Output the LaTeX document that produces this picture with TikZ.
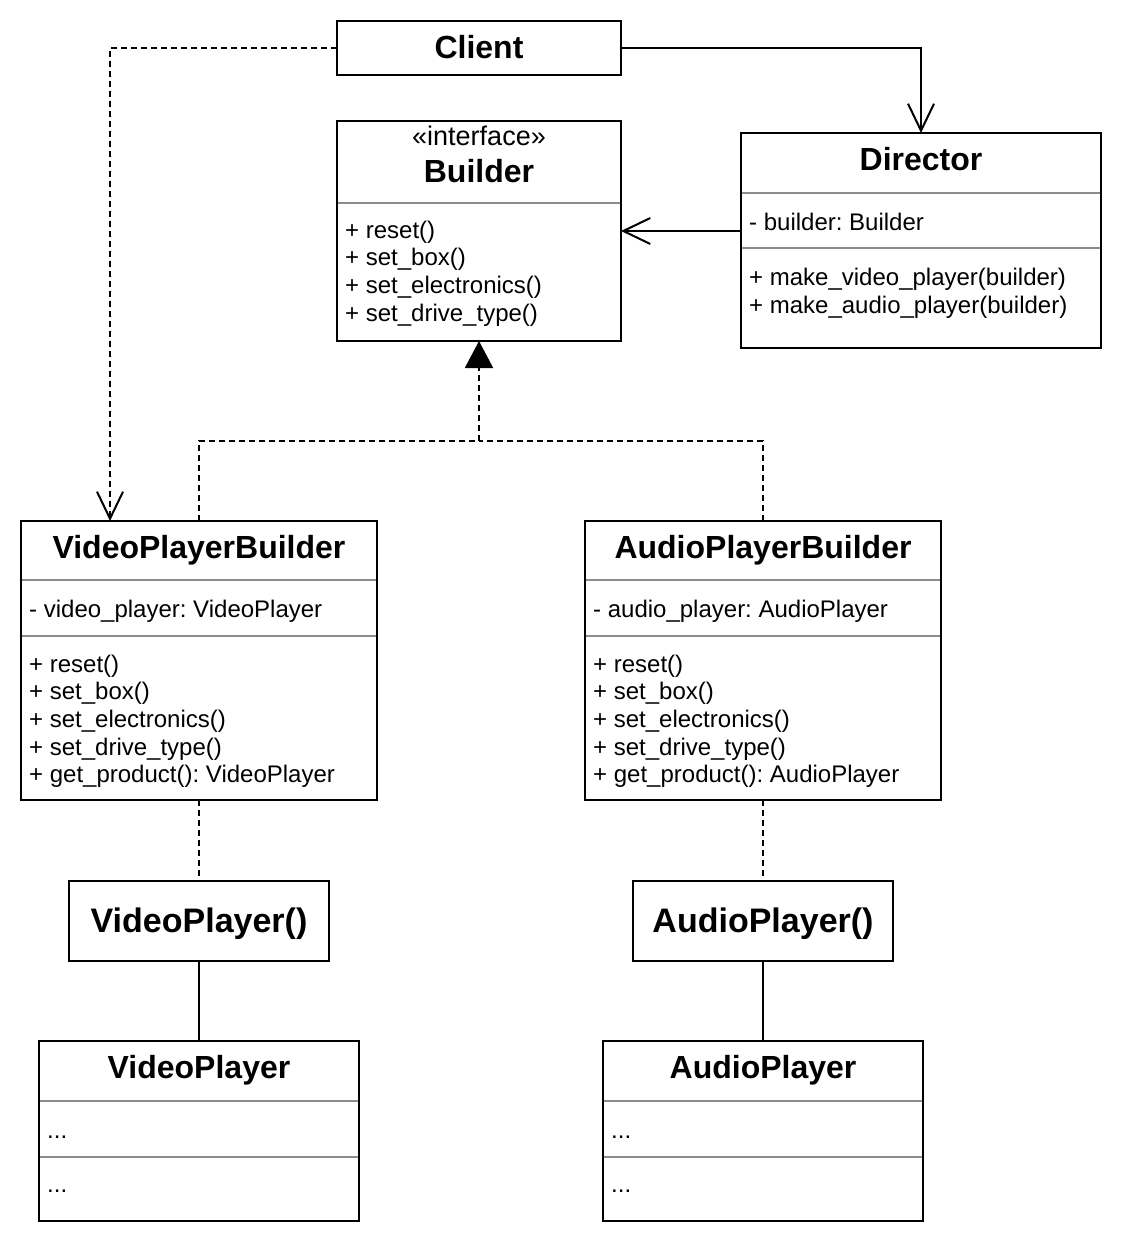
\documentclass[tikz,border=0pt]{standalone}
\usepackage{fontspec}
\setmainfont{Liberation Sans}
\usetikzlibrary{arrows.meta,calc}
\frenchspacing

\tikzset{
  classbox/.style={draw, line width=2pt, anchor=north west, inner sep=0pt, outer sep=0pt},
  title/.style={font=\fontsize{32}{38}\selectfont\bfseries, anchor=base, inner sep=0pt},
  member/.style={font=\fontsize{24}{28}\selectfont, anchor=base west, inner sep=0pt},
  divider/.style={draw=black!45, line width=2pt},
  dep/.style={line width=2pt, dash pattern=on 6pt off 4pt},
  assoc/.style={line width=2pt},
  openhead/.style={-{Straight Barb[length=27pt,width=26pt]}},
  realize/.style={-{Triangle[length=27pt,width=28pt]}}
}

\begin{document}
\begin{tikzpicture}[x=1pt,y=-1pt]
  \useasboundingbox (0,0) rectangle (1122,1242);

  % boxes
  \node[classbox, minimum width=284pt, minimum height=54pt]  (client)   at (337,21)   {};
  \node[classbox, minimum width=284pt, minimum height=220pt] (builder)  at (337,121)  {};
  \node[classbox, minimum width=360pt, minimum height=215pt] (director) at (741,133)  {};
  \node[classbox, minimum width=356pt, minimum height=279pt] (vpb)      at (21,521)   {};
  \node[classbox, minimum width=356pt, minimum height=279pt] (apb)      at (585,521)  {};
  \node[classbox, minimum width=260pt, minimum height=80pt]  (vpCtor)   at (69,881)   {};
  \node[classbox, minimum width=260pt, minimum height=80pt]  (apCtor)   at (633,881)  {};
  \node[classbox, minimum width=320pt, minimum height=180pt] (vp)       at (39,1041)  {};
  \node[classbox, minimum width=320pt, minimum height=180pt] (ap)       at (603,1041) {};

  % dividers
  \draw[divider] (338,203) -- (620,203);
  \draw[divider] (742,193) -- (1100,193);
  \draw[divider] (742,248) -- (1100,248);
  \draw[divider] (22,580) -- (376,580);
  \draw[divider] (22,636) -- (376,636);
  \draw[divider] (586,580) -- (940,580);
  \draw[divider] (586,636) -- (940,636);
  \draw[divider] (40,1101) -- (358,1101);
  \draw[divider] (40,1157) -- (358,1157);
  \draw[divider] (604,1101) -- (922,1101);
  \draw[divider] (604,1157) -- (922,1157);

  % names
  \node[title] (clientName)   at (479,58)   {Client};
  \node[member, anchor=base, font=\fontsize{27}{32}\selectfont] (builderStereo) at (479,145) {«interface»};
  \node[title] (builderName)  at (479,182)  {Builder};
  \node[title] (directorName) at (921,170)  {Director};
  \node[title] (vpbName)      at (199,558)  {VideoPlayerBuilder};
  \node[title] (apbName)      at (763,558)  {AudioPlayerBuilder};
  \node[title, font=\fontsize{34}{40}\selectfont\bfseries] (vpCtorName) at (199,932) {VideoPlayer()};
  \node[title, font=\fontsize{34}{40}\selectfont\bfseries] (apCtorName) at (763,932) {AudioPlayer()};
  \node[title] (vpName)       at (199,1078) {VideoPlayer};
  \node[title] (apName)       at (763,1078) {AudioPlayer};

  % members
  \foreach \m [count=\i] in {reset(), set\_box(), set\_electronics(), set\_drive\_type()}
    \node[member] (builderOp\i) at (345,{210.2+27.8*\i}) {+ \m};
  \node[member] (directorAttr) at (749,230) {- builder: Builder};
  \node[member] (directorOp1)  at (749,285) {+ make\_video\_player(builder)};
  \node[member] (directorOp2)  at (749,313) {+ make\_audio\_player(builder)};
  \node[member] (vpbAttr) at (29,617) {- video\_player: VideoPlayer};
  \node[member] (apbAttr) at (593,617) {- audio\_player: AudioPlayer};
  \foreach \m [count=\i] in {reset(), set\_box(), set\_electronics(), set\_drive\_type(), get\_product(): VideoPlayer}
    \node[member] (vpbOp\i) at (29,{644.3+27.7*\i}) {+ \m};
  \foreach \m [count=\i] in {reset(), set\_box(), set\_electronics(), set\_drive\_type(), get\_product(): AudioPlayer}
    \node[member] (apbOp\i) at (593,{644.3+27.7*\i}) {+ \m};
  \node[member] (vpAttr) at (47,1138) {...};
  \node[member] (vpOp)   at (47,1192) {...};
  \node[member] (apAttr) at (611,1138) {...};
  \node[member] (apOp)   at (611,1192) {...};

  % connectors
  \coordinate (join) at (479,441);
  \draw[dep, openhead] (client.west) -| ($(vpb.north west)+(89,0)$);
  \draw[assoc, openhead] (client.east) -| (director.north);
  \draw[assoc, openhead] (builder.east -| director.west) -- (builder.east);
  \draw[dep] (vpb.north) |- (join);
  \draw[dep] (apb.north) |- (join);
  \draw[dep, realize] (join) -- (builder.south);
  \draw[dep] (vpb.south) -- (vpCtor.north);
  \draw[dep] (apb.south) -- (apCtor.north);
  \draw[assoc] (vpCtor.south) -- (vp.north);
  \draw[assoc] (apCtor.south) -- (ap.north);
\end{tikzpicture}
\end{document}
